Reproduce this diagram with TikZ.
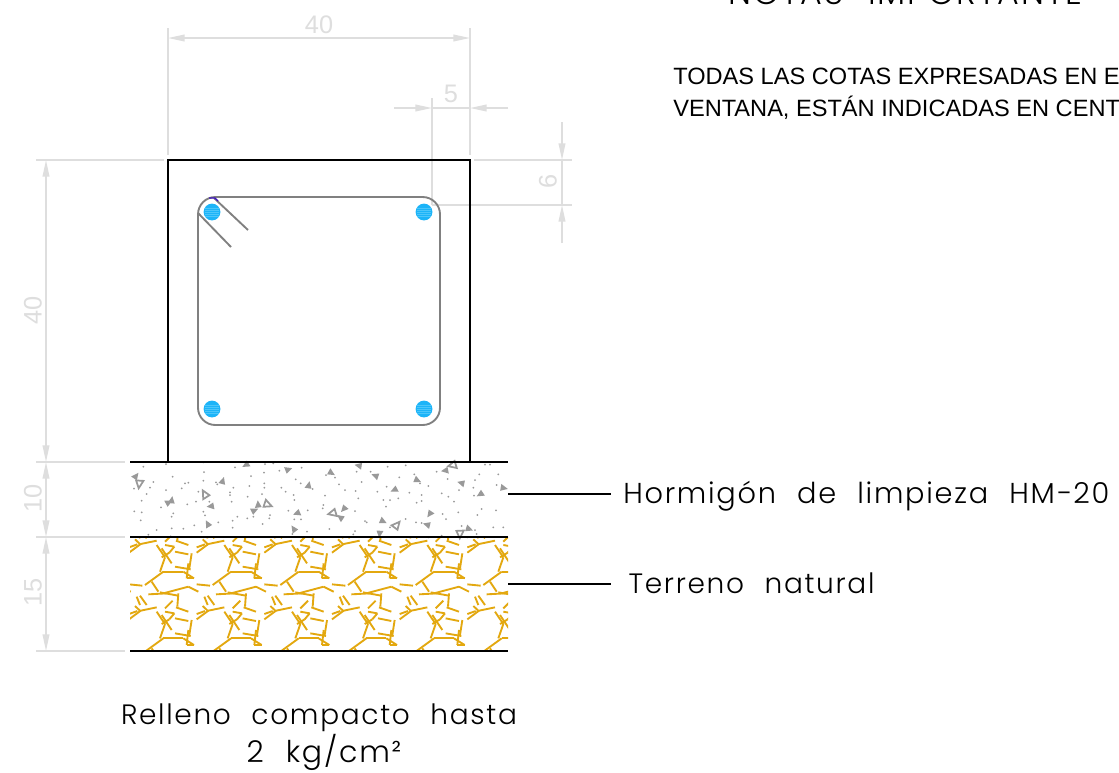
\documentclass[tikz,border=0pt]{standalone}
\usepackage{fontspec}
\usetikzlibrary{arrows.meta}
\setmainfont{Liberation Sans}
\newfontfamily\cadfont[LetterSpace=6,WordSpace=2.2]{Poppins Light}
\definecolor{dimgray}{HTML}{DEDEDE}
\definecolor{hatchgold}{HTML}{E3A80F}
\definecolor{concretegray}{HTML}{999999}
\definecolor{stirrupgray}{HTML}{808080}
\definecolor{rebarblue}{HTML}{1CB4F8}
\definecolor{rebarstripe}{HTML}{4CC6FA}
\definecolor{hookblue}{HTML}{3A10C0}
\tikzset{
  dimline/.style={draw=dimgray,line width=1.2pt},
  dimtip/.style={dimline,{Triangle[length=12.5pt,width=5pt]}-{Triangle[length=12.5pt,width=5pt]}},
  dimtipend/.style={dimline,-{Triangle[length=12.5pt,width=5pt]}},
  dimtext/.style={text=dimgray,font=\fontsize{19}{19}\selectfont,inner sep=0pt},
  groundline/.style={draw=black,line width=1.8pt},
  leaderline/.style={draw=black,line width=1.3pt},
  cadtext/.style={font=\cadfont\fontsize{21}{21}\selectfont,inner ysep=0pt,inner xsep=0pt},
  notetext/.style={font=\fontsize{17.7}{17.7}\selectfont,inner sep=0pt,anchor=base west},
  hatchline/.style={draw=hatchgold,line width=1.4pt},
  stirrup/.style={draw=stirrupgray,line width=1.4pt},
  rebar/.style={fill=rebarblue,draw=none}
}
\newcommand{\rebarat}[2]{%
  \fill[rebar] (#1,#2) circle (6.3pt);
  \foreach \s in {-4,-2,0,2,4}{\draw[rebarstripe,line width=.4pt] (#1-7,#2+\s) -- (#1+7,#2+\s);}%
}
\newcommand{\solidtri}[2]{\fill[concretegray,shift={(#1,#2)},rotate=#1*7,scale=1.3] (-8,7) -- (2,-9) -- (8,8) -- cycle;}
\newcommand{\opentri}[2]{\draw[concretegray,line width=1.3pt,shift={(#1,#2)},rotate=#1*3,scale=1.3] (-8,8) -- (3,-9) -- (9,9) -- cycle;}
\begin{document}
\begin{tikzpicture}[x=0.75pt,y=-0.75pt]
\useasboundingbox (0,0) rectangle (1119,772);
\fill[white] (0,0) rectangle (1119,772);

% terrain hatch
\begin{scope}
\clip (130,537) rectangle (508,651);
\begin{scope}[shift={(120,450)},x=.25pt,y=-.25pt]
\foreach \i in {-1,0,1,2,3,4,5} \foreach \j in {-1,0,1}{
  \begin{scope}[shift={(203*\i,200*\j)}]
  \foreach \a/\b/\c/\d in {27/308/62/282,62/282/110/272,45/268/62/284,27/292/52/283,
    110/285/135/322,135/322/120/365,125/295/155/340,135/285/163/290,163/290/148/308,148/308/125/322,
    168/272/205/285,165/305/205/313,215/310/208/355,165/350/212/358,130/365/190/365,
    222/385/200/385,200/385/205/340,190/365/222/385,130/365/75/405,95/395/115/425,27/403/67/407,
    85/433/140/430,120/427/175/437,130/430/205/410,205/410/235/425,175/430/172/470,135/475/158/452,
    50/440/60/465,60/437/80/465}
  {\draw[hatchline] (\a,\b) -- (\c,\d);}
  \end{scope}
}
\end{scope}
\end{scope}

% concrete
\begin{scope}[shift={(120,450)},x=.25pt,y=-.25pt]
\foreach \p/\q in {70/50,138/42,250/37,345/52,435/42,460/40,478/62,545/53,252/66,393/78,432/68,158/80,250/92,100/96,195/100,205/98,288/97,292/103,527/88,542/100,90/113,42/116,138/120,185/115,340/113,388/108,433/100,433/113,484/113,497/125,578/117,80/132,235/125,330/127,330/135,383/140,426/132,521/135,523/150,65/152,228/155,335/155,268/155,202/163,123/172,250/185,160/190,155/200,43/184,65/187,505/182,563/181,352/200,382/205,400/200,450/195,448/205,523/208,543/208,62/211,255/196,295/217,338/212,338/233,428/222,223/226,155/235,190/236,110/240,245/245,85/254,152/259,517/252,561/245}
  {\fill[concretegray] (\p,\q) circle (.75pt);}
\foreach \p/\q in {47/77,307/92,272/170,262/222,378/46,505/57,565/105,413/163,403/180,531/191,520/237,146/156,154/150}
  {\solidtri{\p}{\q}}
\foreach \p/\q in {60/103,252/133,445/162}
  {\opentri{\p}{\q}}
\end{scope}
\begin{scope}[shift={(320,450)},x=.25pt,y=-.25pt]
\foreach \p/\q in {18/75,45/83,110/65,152/65,203/50,257/46,350/65,478/73,535/73,495/44,510/44,125/96,57/103,200/110,238/82,283/73,300/100,325/108,383/87,417/120,460/113,465/90,530/105,75/120,107/123,172/125,15/137,115/145,268/128,305/135,365/130,305/153,290/158,190/150,210/150,235/145,385/140,402/155,198/170,10/165,8/175,105/183,485/177,528/181,462/137,472/195,368/192,378/207,415/187,257/207,288/217,305/219,140/217,135/213,210/232,28/237,105/243,100/253,425/228,465/240,470/252,520/232,550/232,365/257,325/262,442/262}
  {\fill[concretegray] (\p,\q) circle (.75pt);}
\foreach \p/\q in {115/48,35/68,165/78,293/90,223/121,72/178,60/203,190/213,330/193,320/225,180/252,375/63,423/100,552/113,481/134,448/236}
  {\solidtri{\p}{\q}}
\foreach \p/\q in {37/192,229/223,397/48,422/253}
  {\opentri{\p}{\q}}
\end{scope}

% dimensions
\draw[dimline] (168,28) -- (168,155);
\draw[dimline] (470,28) -- (470,155);
\draw[dimtip] (168,38) -- (470,38);
\node[dimtext] (d40top) at (319,25) {40};
\draw[dimline] (432,98) -- (432,205);
\draw[dimtipend] (394,108) -- (432,108);
\draw[dimtipend] (508,108) -- (470,108);
\draw[dimline] (432,108) -- (470,108);
\node[dimtext] (d5) at (451,94) {5};
\draw[dimline] (474,160) -- (572,160);
\draw[dimline] (432,205) -- (572,205);
\draw[dimtipend] (562,122) -- (562,160);
\draw[dimtipend] (562,243) -- (562,205);
\draw[dimline] (562,160) -- (562,205);
\node[dimtext,rotate=90] (d6) at (548,181) {6};
\draw[dimline] (36,160) -- (164,160);
\draw[dimline] (36,462) -- (125,462);
\draw[dimline] (36,537) -- (125,537);
\draw[dimline] (36,651) -- (125,651);
\draw[dimtip] (46,160) -- (46,462);
\draw[dimtip] (46,462) -- (46,537);
\draw[dimtip] (46,537) -- (46,651);
\node[dimtext,rotate=90] (d40left) at (33,310) {40};
\node[dimtext,rotate=90] (d10) at (33,498) {10};
\node[dimtext,rotate=90] (d15) at (33,592) {15};

% ground lines and footing
\draw[groundline] (130,462) -- (508,462);
\draw[groundline] (130,537) -- (508,537);
\draw[groundline] (130,651) -- (508,651);
\draw[draw=black,line width=1.5pt] (168,462) -- (168,160) -- (470,160) -- (470,462);

% reinforcement
\draw[stirrup,rounded corners=13pt] (198,197) rectangle (440,425);
\draw[stirrup] (214,198) -- (248,230);
\draw[stirrup] (198,213) -- (231,247);
\draw[hookblue,line width=1pt] (209,198) -- (215,198) -- (218,201);
\rebarat{212}{212}
\rebarat{424}{212}
\rebarat{212}{409}
\rebarat{424}{409}

% labels
\node[cadtext,font=\cadfont\fontsize{21.6}{21.6}\selectfont,anchor=base west,inner xsep=9pt] (hm) at (611,503) {Hormigón de limpieza HM−20};
\node[cadtext,anchor=base west,inner xsep=13pt] (tn) at (611,593) {Terreno natural};
\coordinate (hmfrom) at (508,494);
\coordinate (tnfrom) at (508,584);
\draw[leaderline] (hmfrom) -- (hm.west |- hmfrom);
\draw[leaderline] (tnfrom) -- (tn.west |- tnfrom);
\node[cadtext,anchor=base] (rell) at (319,724) {Relleno compacto hasta};
\node[cadtext,font=\cadfont\fontsize{22.5}{22.5}\selectfont,anchor=base] (kg) at (324,762) {2 kg/cm²};
\node[cadtext,font=\cadfont\fontsize{25}{25}\selectfont,anchor=base west] (title) at (728,4.5) {NOTAS IMPORTANTE};
\node[notetext] (n1) at (673,84) {TODAS LAS COTAS EXPRESADAS EN E};
\node[notetext] (n2) at (673,116) {VENTANA, ESTÁN INDICADAS EN CENT};
\end{tikzpicture}
\end{document}
